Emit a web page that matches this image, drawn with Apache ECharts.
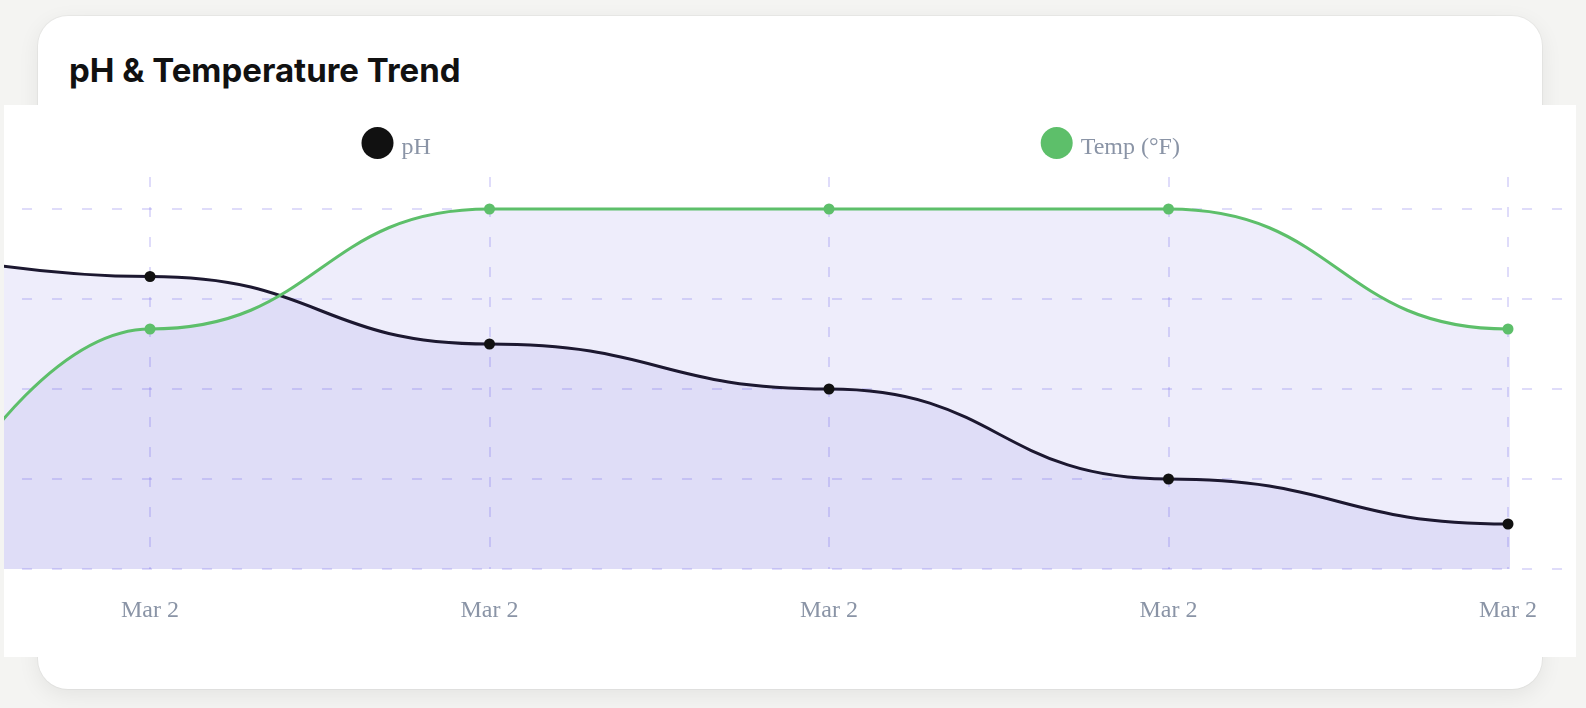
<!DOCTYPE html>
<html>
<head>
<meta charset="utf-8">
<script src="https://cdn.jsdelivr.net/npm/echarts@6/dist/echarts.min.js"></script>
<style>
  html, body { margin: 0; padding: 0; background: #f4f4f2; width: 1586px; height: 708px; overflow: hidden; }
  .card { position: absolute; left: 38px; top: 16px; width: 1504px; height: 673px; background: #fff;
          border-radius: 30px; box-shadow: 0 6px 22px rgba(0,0,0,0.07), 0 0 0 1px rgba(0,0,0,0.035); }
  .title { position: absolute; left: 69px; top: 54px; font-family: Inter, "Noto Sans", sans-serif; font-weight: 700;
           font-size: 33px; line-height: 33px; color: #111; white-space: nowrap; }
  #chart { position: absolute; left: 4px; top: 105px; width: 1572px; height: 552px; background: #fff; }
</style>
</head>
<body>
<div class="card"></div>
<div class="title">pH &amp; Temperature Trend</div>
<div id="chart"></div>
<script>
// ---- data ----
const readingIndex = [-1, 0, 1, 2, 3, 4, 5];
const phValues = [7.66, 7.55, 7.40, 7.30, 7.10, 7.00, 6.95];
const tempValues = [70.9, 78, 80, 80, 80, 78, 77];
const tickValues = [-1, 0, 1, 2, 3, 4];
const tickLabels = ['Mar 2', 'Mar 2', 'Mar 2', 'Mar 2', 'Mar 2', 'Mar 2'];
const seriesNames = ['pH', 'Temp (°F)'];

const chart = echarts.init(document.getElementById('chart'));
const gridLine = { show: true, lineStyle: { color: 'rgba(100,90,230,0.28)', width: 1.5, type: [10, 20] } };
const labelFont = { fontFamily: 'Liberation Serif', fontSize: 24, color: '#8a94a6' };
const legendText = Object.assign({}, labelFont, {
  rich: { t: Object.assign({ padding: [9, 0, 0, 3] }, labelFont) }
});

const option = {
  animation: false,
  legend: [
    { data: [seriesNames[0]], left: 352.5, top: 17, icon: 'circle', itemWidth: 32, itemHeight: 32,
      formatter: n => '{t|' + n + '}', textStyle: legendText },
    { data: [seriesNames[1]], left: 1031.7, top: 17, icon: 'circle', itemWidth: 32, itemHeight: 32,
      formatter: n => '{t|' + n + '}', textStyle: legendText }
  ],
  grid: [
    { left: 18, right: 14, top: 104, bottom: 88, outerBoundsMode: 'none', containLabel: false },
    { left: -193.5, width: 1697.5, top: 72, bottom: 88, outerBoundsMode: 'none', containLabel: false }
  ],
  xAxis: [
    { type: 'value', gridIndex: 0, min: 0, max: 1, show: false },
    { type: 'value', gridIndex: 1, min: tickValues[0], max: tickValues[tickValues.length - 1], interval: 1,
      axisLine: { show: false }, axisTick: { show: false },
      splitLine: gridLine,
      axisLabel: Object.assign({ margin: 30, formatter: v => tickLabels[tickValues.indexOf(v)] || '' }, labelFont) }
  ],
  yAxis: [
    { type: 'value', gridIndex: 0, min: 0, max: 4, interval: 1,
      axisLine: { show: false }, axisTick: { show: false }, axisLabel: { show: false }, splitLine: gridLine },
    { type: 'value', gridIndex: 1, min: 6.9, max: 6.9 + 392 / 450, show: false },
    { type: 'value', gridIndex: 1, min: 74, max: 74 + 392 / 60, show: false }
  ],
  series: [
    { name: seriesNames[0], type: 'line', xAxisIndex: 1, yAxisIndex: 1, clip: true,
      data: readingIndex.map((x, i) => [x, phValues[i]]),
      smooth: 0.5, smoothMonotone: 'x', symbol: 'circle', symbolSize: 11,
      lineStyle: { color: '#1c1830', width: 3 }, itemStyle: { color: '#111' },
      areaStyle: { color: 'rgba(85,75,215,0.1)', opacity: 1 } },
    { name: seriesNames[1], type: 'line', xAxisIndex: 1, yAxisIndex: 2, clip: true,
      data: readingIndex.map((x, i) => [x, tempValues[i]]),
      smooth: 0.5, smoothMonotone: 'x', symbol: 'circle', symbolSize: 11,
      lineStyle: { color: '#5dbf6a', width: 3 }, itemStyle: { color: '#5dbf6a' },
      areaStyle: { color: 'rgba(85,75,215,0.1)', opacity: 1 } }
  ]
};
chart.setOption(option);
</script>
</body>
</html>
